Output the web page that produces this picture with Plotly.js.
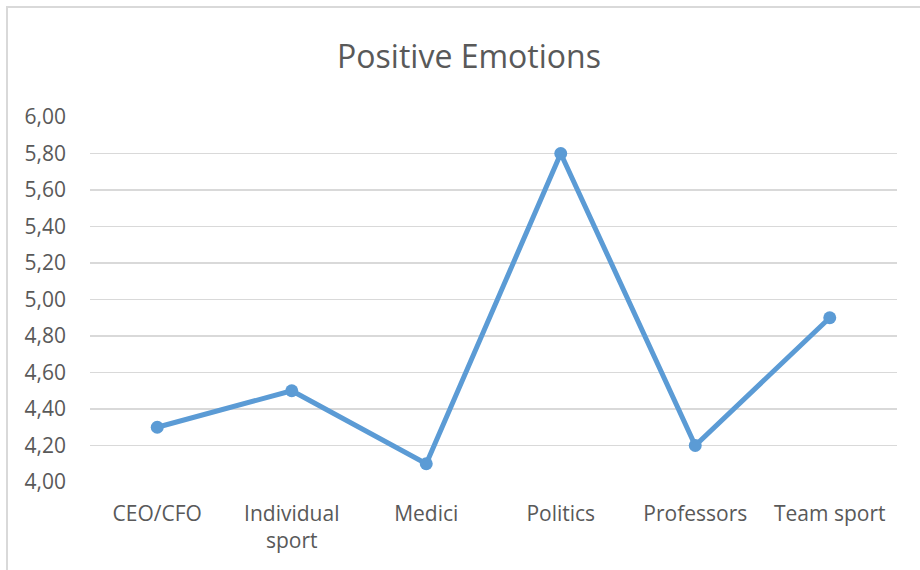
<!DOCTYPE html>
<html>
<head>
<meta charset="utf-8">
<script src="https://cdn.plot.ly/plotly-3.0.1.min.js"></script>
<style>
  html, body { margin: 0; padding: 0; background: #fff; overflow: hidden; }
  #frame { position: absolute; left: 6px; top: 6px; width: 1000px; height: 1000px;
           border: 2px solid #d9d9d9; box-sizing: border-box; pointer-events: none; }
  #chart { position: absolute; left: 0; top: 0; width: 920px; height: 570px; }
</style>
</head>
<body>
<div id="frame"></div>
<div id="chart"></div>
<script>
const categories = ["CEO/CFO", "Individual<br>sport", "Medici", "Politics", "Professors", "Team sport"];
const positiveEmotions = [4.30, 4.50, 4.10, 5.80, 4.20, 4.90];
const yTicks = [4.0, 4.2, 4.4, 4.6, 4.8, 5.0, 5.2, 5.4, 5.6, 5.8, 6.0];

const trace = {
  type: "scatter",
  mode: "lines+markers",
  x: categories,
  y: positiveEmotions,
  line: { color: "#5B9BD5", width: 5 },
  marker: { color: "#5B9BD5", size: 13 },
  hoverinfo: "none"
};

const layout = {
  width: 920, height: 570,
  paper_bgcolor: "rgba(0,0,0,0)",
  plot_bgcolor: "rgba(0,0,0,0)",
  separators: ", ",
  showlegend: false,
  margin: { l: 90, r: 23, t: 117, b: 88 },
  title: {
    text: "Positive Emotions",
    font: { family: "Open Sans, sans-serif", size: 32, color: "#595959" },
    x: 469 / 920, xref: "container", xanchor: "center",
    y: 1 - 57 / 570, yref: "container", yanchor: "middle"
  },
  font: { family: "Open Sans, sans-serif", color: "#595959" },
  xaxis: {
    type: "category",
    showgrid: false, zeroline: false, showline: false,
    ticks: "",
    tickfont: { size: 21, color: "#595959" },
    ticklabelstandoff: 17,
    range: [-0.5, 5.5]
  },
  yaxis: {
    range: [4, 6],
    tickvals: yTicks,
    tickformat: ".2f",
    showgrid: true, gridcolor: "#d9d9d9", gridwidth: 1.5,
    zeroline: false, showline: false, ticks: "",
    tickfont: { size: 21, color: "#595959" },
    ticklabelstandoff: 23
  }
};

Plotly.newPlot("chart", [trace], layout, { staticPlot: true, displayModeBar: false });
</script>
</body>
</html>
